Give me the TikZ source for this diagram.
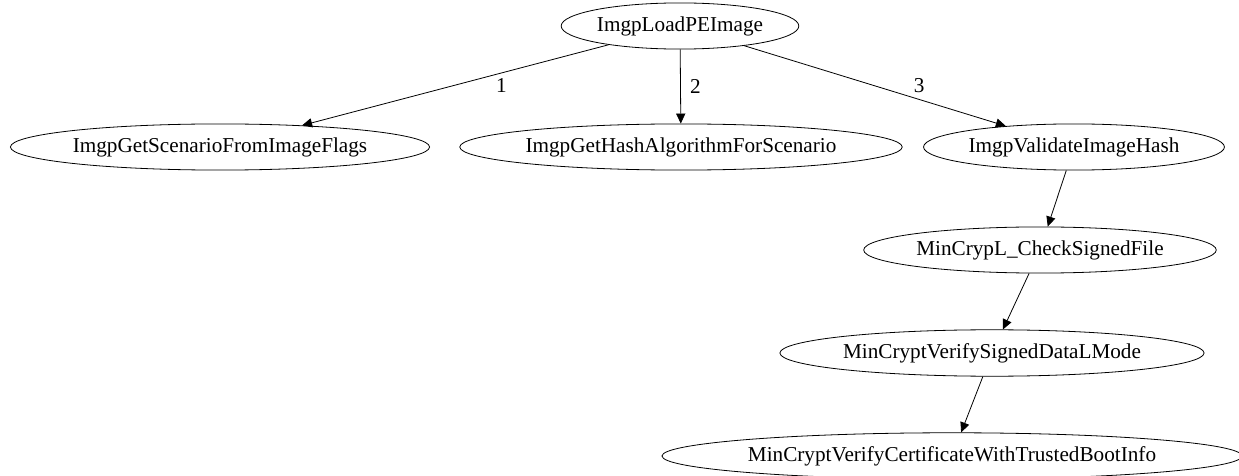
\documentclass[tikz,border=0pt]{standalone}
\usepackage{fontspec}
\setmainfont{Liberation Serif}
\usetikzlibrary{arrows.meta}
\usetikzlibrary{shapes.geometric}

\tikzset{
  func/.style={draw,ellipse,inner xsep=0.5pt,minimum height=22pt,
    font=\fontsize{10.6}{12}\selectfont},
  call/.style={-{Triangle[length=5pt,width=4.6pt]}},
  num/.style={font=\fontsize{10.6}{12}\selectfont,inner sep=0pt}
}

\begin{document}
\begin{tikzpicture}[x=0.5pt,y=-0.5pt]
  \useasboundingbox (0,0) rectangle (1239,476);

  \node[func] (LoadPE)   at (680,26)  {ImgpLoadPEImage};
  \node[func] (Scenario) at (220,147) {ImgpGetScenarioFromImageFlags};
  \node[func] (HashAlg)  at (681,147) {ImgpGetHashAlgorithmForScenario};
  \node[func] (Validate) at (1074,147) {ImgpValidateImageHash};
  \node[func] (CheckSig) at (1040,250) {MinCrypL\_CheckSignedFile};
  \node[func] (SignData) at (992,353) {MinCryptVerifySignedDataLMode};
  \node[func] (CertBoot) at (952,456) {MinCryptVerifyCertificateWithTrustedBootInfo};

  \draw[call] (LoadPE) -- node[num,xshift=23pt] {1} (Scenario);
  \draw[call] (LoadPE) -- node[num,xshift=7.5pt] {2} (HashAlg);
  \draw[call] (LoadPE) -- node[num,xshift=22pt] {3} (Validate);
  \draw[call] (Validate) -- (CheckSig);
  \draw[call] (CheckSig) -- (SignData);
  \draw[call] (SignData) -- (CertBoot);
\end{tikzpicture}
\end{document}
